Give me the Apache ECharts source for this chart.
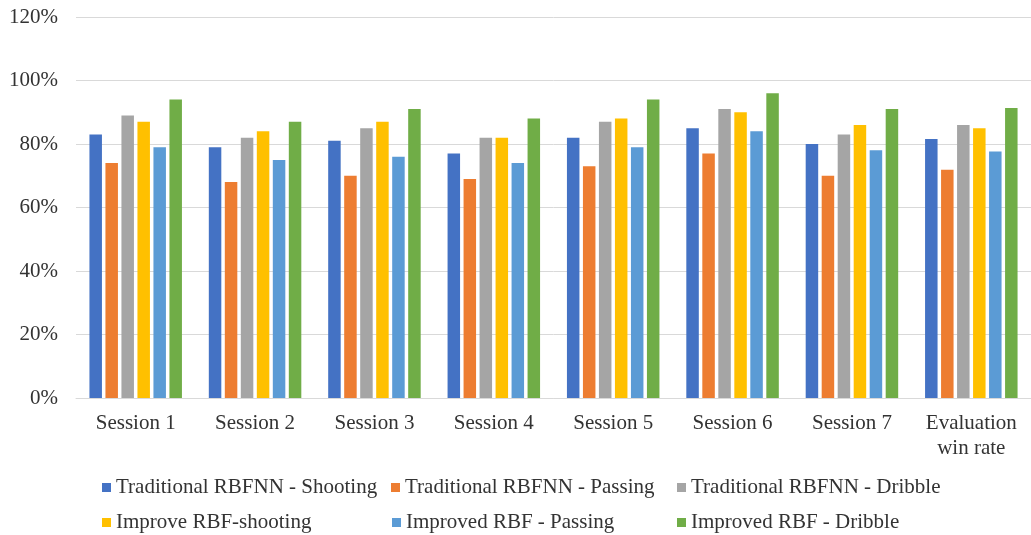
<!DOCTYPE html>
<html>
<head>
<meta charset="utf-8">
<script src="https://cdn.jsdelivr.net/npm/echarts@6/dist/echarts.min.js"></script>
<style>
  html, body { margin: 0; padding: 0; background: #fff; }
  #chart { width: 1031px; height: 535px; }
</style>
</head>
<body>
<div id="chart"></div>
<script>
const categories = ['Session 1', 'Session 2', 'Session 3', 'Session 4', 'Session 5', 'Session 6', 'Session 7', 'Evaluation\nwin rate'];
const seriesNames = [
  'Traditional RBFNN - Shooting',
  'Traditional RBFNN - Passing',
  'Traditional RBFNN - Dribble',
  'Improve RBF-shooting',
  'Improved RBF - Passing',
  'Improved RBF - Dribble'
];
const tradShooting = [83, 79, 81, 77, 82, 85, 80, 81.6];
const tradPassing  = [74, 68, 70, 69, 73, 77, 70, 71.9];
const tradDribble  = [89, 82, 85, 82, 87, 91, 83, 86];
const impShooting  = [87, 84, 87, 82, 88, 90, 86, 85];
const impPassing   = [79, 75, 76, 74, 79, 84, 78, 77.6];
const impDribble   = [94, 87, 91, 88, 94, 96, 91, 91.3];
const yTicks = [0, 20, 40, 60, 80, 100, 120];

const colors = ['#4472C4', '#ED7D31', '#A5A5A5', '#FFC000', '#5B9BD5', '#70AD47'];
const values = [tradShooting, tradPassing, tradDribble, impShooting, impPassing, impDribble];
const font = 'Liberation Serif';
const textColor = '#333333';

// legend laid out like the excel grid: 3 columns, 2 rows
const legendPos = [[102, 477], [391, 477], [677, 477], [102, 512], [392, 512], [677, 512]];

let chart = echarts.init(document.getElementById('chart'));
chart.setOption({
  animation: false,
  color: colors,
  grid: { left: 76, top: 17, width: 962, height: 381 },
  legend: seriesNames.map(function (name, i) {
    return {
      data: [name],
      left: legendPos[i][0],
      top: legendPos[i][1],
      padding: 0,
      icon: 'rect',
      itemWidth: 9,
      itemHeight: 9,
      textStyle: { fontFamily: font, fontSize: 21, color: textColor }
    };
  }),
  xAxis: {
    type: 'category',
    data: categories,
    axisLine: { lineStyle: { color: '#d9d9d9', width: 1 } },
    axisTick: { show: false },
    axisLabel: {
      interval: 0,
      margin: 13,
      fontFamily: font,
      fontSize: 21,
      lineHeight: 25,
      color: textColor
    }
  },
  yAxis: {
    type: 'value',
    min: yTicks[0],
    max: yTicks[yTicks.length - 1],
    interval: 20,
    axisLine: { show: false },
    axisTick: { show: false },
    splitLine: { lineStyle: { color: '#d9d9d9', width: 1 } },
    axisLabel: {
      margin: 18,
      fontFamily: font,
      fontSize: 21,
      color: textColor,
      formatter: '{value}%'
    }
  },
  series: seriesNames.map(function (name, i) {
    return {
      name: name,
      type: 'bar',
      data: values[i],
      barWidth: 12.5,
      barGap: '28%',
      itemStyle: { color: colors[i] }
    };
  })
});
</script>
</body>
</html>
